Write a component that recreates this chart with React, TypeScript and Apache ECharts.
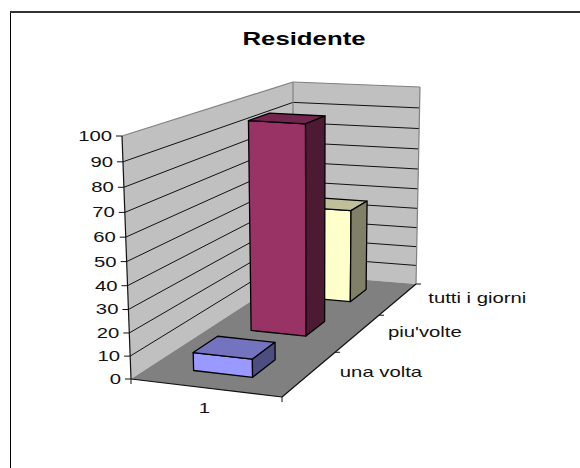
import React, { useEffect, useRef } from "react";
import * as echarts from "echarts";

const titleText = "Residente";
const xCategories = ["1"];
const depthCategories = ["una volta", "piu'volte", "tutti i giorni"];
const seriesValues = [8, 96, 46];
const seriesColors = [
  { front: "#9999FF", top: "#7373BF", side: "#4D4D80" },
  { front: "#993366", top: "#73264D", side: "#4D1A33" },
  { front: "#FFFFCC", top: "#BFBF99", side: "#808066" },
];
const yTicks = [0, 10, 20, 30, 40, 50, 60, 70, 80, 90, 100];

const FONT = '"Liberation Sans", Arial, sans-serif';
const STRETCH = 1.4;

// box corners of the projected chart volume
const A = [131, 379], B = [282, 397], C = [416, 284], D = [293, 274];
const At = [122, 136], Bt = [281, 147], Ct = [420, 87], Dt = [293, 82];
const GRID = { left: 122, top: 136, width: 294, height: 243 };

const lerp = (p: number[], q: number[], t: number) => [p[0] + (q[0] - p[0]) * t, p[1] + (q[1] - p[1]) * t];
const depthWarp = (z: number) => (z * 1.31) / (1 + 0.31 * z);
const heightWarp = (h: number) => h / (1 + 0.07 * (1 - h));

function project(u: number, z: number, h: number) {
  const v = depthWarp(z);
  const hw = heightWarp(h);
  const bottom = lerp(lerp(A, B, u), lerp(D, C, u), v);
  const top = lerp(lerp(At, Bt, u), lerp(Dt, Ct, u), v);
  return lerp(bottom, top, hw);
}

const heightOf = (api: any, value: number) => {
  const py = api.coord([xCategories[0], value])[1];
  return (GRID.top + GRID.height - py) / GRID.height;
};

const line = (p: number[], q: number[], stroke: string, lineWidth = 1) => ({
  type: "line",
  silent: true,
  shape: { x1: p[0], y1: p[1], x2: q[0], y2: q[1] },
  style: { stroke, lineWidth },
});
const poly = (points: number[][], fill: string, stroke = "none", lineWidth = 0) => ({
  type: "polygon",
  silent: true,
  shape: { points },
  style: { fill, stroke, lineWidth, lineJoin: "round" },
});
const label = (text: string, x: number, y: number, align: string, size = 14.5, weight = "normal") => ({
  type: "text",
  silent: true,
  x,
  y,
  scaleX: STRETCH,
  style: {
    text,
    x: 0,
    y: 0,
    fill: "#111",
    align,
    verticalAlign: "middle",
    font: `${weight} ${size}px ${FONT}`,
  },
});

function renderFrame(_: any, api: any) {
  const children: any[] = [];
  const w00 = project(0, 0, 0), w01 = project(0, 1, 0), w11 = project(1, 1, 0), w10 = project(1, 0, 0);
  const t00 = project(0, 0, 1), t01 = project(0, 1, 1), t11 = project(1, 1, 1);
  children.push(poly([w00, t00, t01, w01], "#C0C0C0"));
  children.push(poly([w01, t01, t11, w11], "#C0C0C0"));
  children.push(poly([w00, w10, w11, w01], "#808080"));
  yTicks.forEach((tick) => {
    const h = heightOf(api, tick);
    const a = project(0, 0, h), b = project(0, 1, h), c = project(1, 1, h);
    if (tick > 0 && tick < 100) {
      children.push(line(a, b, "#111"));
      children.push(line(b, c, "#111"));
    }
    children.push(line([a[0] - 6, a[1]], a, "#111"));
    children.push(label(String(tick), a[0] - 10, a[1], "right"));
  });
  children.push(line(t00, t01, "#808080", 1.2));
  children.push(line(t01, t11, "#808080", 1.2));
  children.push(line(t01, w01, "#808080", 1.2));
  children.push(line(t11, w11, "#808080", 1.2));
  children.push(line(w00, t00, "#111", 1.2));
  children.push(line(w00, w10, "#111", 1.2));
  children.push(line(w10, w11, "#111", 1.2));
  children.push(line(w00, [w00[0], w00[1] + 5], "#111"));
  children.push(line(w10, [w10[0], w10[1] + 5], "#111"));
  depthCategories.forEach((name, i) => {
    const tick = project(1, (i + 1) / depthCategories.length, 0);
    children.push(line(tick, [tick[0] + 5, tick[1]], "#111"));
    const mid = project(1, (i + 0.5) / depthCategories.length, 0);
    children.push(label(name, mid[0] + 30, mid[1] - 1, "left"));
  });
  const xMid = project(0.5, 0, 0);
  children.push(label(xCategories[0], xMid[0] - 2, xMid[1] + 20, "center"));
  return { type: "group", children };
}

function renderBar(index: number) {
  return (_: any, api: any) => {
    const h = heightOf(api, api.value(1));
    const n = depthCategories.length;
    const z0 = (index + 0.3) / n, z1 = (index + 0.7) / n;
    const u0 = 0.285, u1 = 0.685;
    const fb0 = project(u0, z0, 0), fb1 = project(u1, z0, 0), bb1 = project(u1, z1, 0);
    const ft0 = project(u0, z0, h), ft1 = project(u1, z0, h), bt0 = project(u0, z1, h), bt1 = project(u1, z1, h);
    const c = seriesColors[index];
    return {
      type: "group",
      children: [
        poly([fb0, fb1, ft1, ft0], c.front, "#000", 1.3),
        poly([ft0, ft1, bt1, bt0], c.top, "#000", 1.3),
        poly([fb1, bb1, bt1, ft1], c.side, "#000", 1.3),
      ],
    };
  };
}

export default function App() {
  const ref = useRef<HTMLDivElement>(null);
  useEffect(() => {
    document.body.style.margin = "0";
    document.body.style.background = "#fff";
    const chart = echarts.init(ref.current!, null, { renderer: "svg" });
    const barSeries = [2, 1, 0].map((i) => ({
      type: "custom",
      name: depthCategories[i],
      coordinateSystem: "cartesian2d",
      renderItem: renderBar(i),
      data: [[xCategories[0], seriesValues[i]]],
      z: 5 + (2 - i),
      silent: true,
    }));
    chart.setOption({
      animation: false,
      backgroundColor: "#fff",
      grid: GRID,
      xAxis: { type: "category", data: xCategories, show: false },
      yAxis: { type: "value", min: 0, max: 100, interval: 10, show: false },
      graphic: [
        {
          type: "line",
          silent: true,
          shape: { x1: 10.5, y1: 11, x2: 10.5, y2: 468 },
          style: { stroke: "#000", lineWidth: 1 },
        },
        {
          type: "line",
          silent: true,
          shape: { x1: 10, y1: 12, x2: 580, y2: 12 },
          style: { stroke: "#333", lineWidth: 2 },
        },
        {
          type: "text",
          silent: true,
          x: 304,
          y: 39,
          scaleX: STRETCH,
          style: {
            text: titleText,
            fill: "#000",
            align: "center",
            verticalAlign: "middle",
            font: `bold 18.4px ${FONT}`,
          },
        },
      ],
      series: [
        {
          type: "custom",
          coordinateSystem: "cartesian2d",
          renderItem: renderFrame,
          data: [[xCategories[0], 0]],
          z: 1,
          silent: true,
        },
        ...barSeries,
      ],
    });
    return () => chart.dispose();
  }, []);
  return <div ref={ref} style={{ width: 580, height: 468 }} />;
}
